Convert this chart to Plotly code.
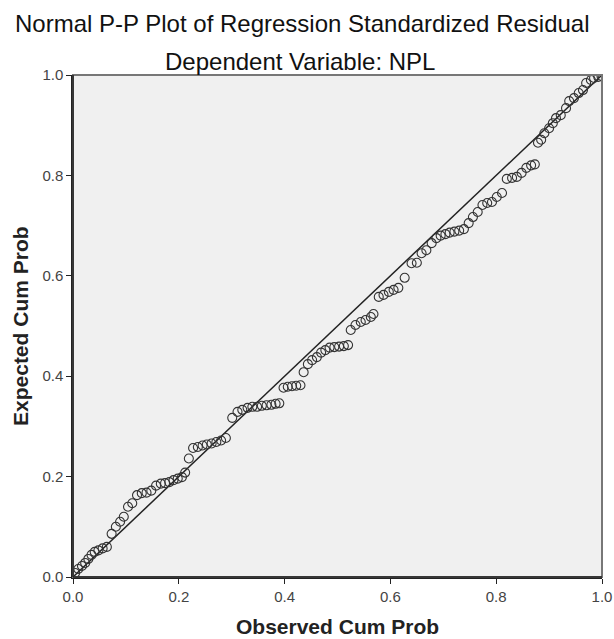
import plotly.graph_objects as go

# Observed cumulative probability (x) and expected cumulative probability (y)
observed = [0.004, 0.010, 0.017, 0.023, 0.029, 0.035, 0.041, 0.048, 0.056, 0.064,
            0.073, 0.081, 0.089, 0.096, 0.104, 0.112, 0.121, 0.130, 0.139, 0.148,
            0.157, 0.166, 0.174, 0.182, 0.190, 0.198, 0.206, 0.212, 0.219, 0.227,
            0.236, 0.245, 0.253, 0.262, 0.271, 0.280, 0.289, 0.301, 0.311, 0.320,
            0.330, 0.339, 0.348, 0.357, 0.366, 0.375, 0.383, 0.390, 0.398, 0.406,
            0.414, 0.422, 0.430, 0.436, 0.444, 0.452, 0.461, 0.469, 0.477, 0.485,
            0.494, 0.503, 0.512, 0.520, 0.525, 0.534, 0.544, 0.553, 0.563, 0.568,
            0.578, 0.587, 0.597, 0.606, 0.615, 0.627, 0.640, 0.650, 0.659, 0.668,
            0.678, 0.687, 0.695, 0.704, 0.712, 0.721, 0.730, 0.739, 0.748, 0.756,
            0.765, 0.774, 0.783, 0.792, 0.801, 0.811, 0.820, 0.830, 0.839, 0.848,
            0.857, 0.866, 0.873, 0.879, 0.885, 0.891, 0.900, 0.907, 0.913, 0.922,
            0.932, 0.938, 0.947, 0.956, 0.964, 0.970, 0.979, 0.985, 0.993, 0.999]
expected = [0.008, 0.016, 0.022, 0.028, 0.036, 0.044, 0.050, 0.053, 0.057, 0.060,
            0.086, 0.100, 0.110, 0.120, 0.140, 0.147, 0.163, 0.167, 0.168, 0.172,
            0.182, 0.186, 0.187, 0.189, 0.193, 0.196, 0.199, 0.208, 0.236, 0.257,
            0.259, 0.262, 0.264, 0.266, 0.269, 0.272, 0.277, 0.317, 0.329, 0.333,
            0.337, 0.339, 0.339, 0.341, 0.342, 0.343, 0.345, 0.346, 0.377, 0.379,
            0.380, 0.381, 0.382, 0.408, 0.424, 0.432, 0.438, 0.447, 0.452, 0.457,
            0.458, 0.459, 0.460, 0.462, 0.492, 0.502, 0.508, 0.512, 0.518, 0.524,
            0.558, 0.562, 0.568, 0.572, 0.576, 0.596, 0.625, 0.626, 0.645, 0.651,
            0.665, 0.675, 0.680, 0.683, 0.686, 0.688, 0.690, 0.693, 0.705, 0.717,
            0.727, 0.741, 0.745, 0.747, 0.757, 0.765, 0.793, 0.795, 0.797, 0.805,
            0.815, 0.820, 0.822, 0.865, 0.871, 0.884, 0.894, 0.904, 0.914, 0.920,
            0.934, 0.948, 0.954, 0.964, 0.970, 0.984, 0.990, 0.994, 0.996, 0.998]
ref_line = [0.0, 1.0]
tick_vals = [0.0, 0.2, 0.4, 0.6, 0.8, 1.0]
tick_text = ["0.0", "0.2", "0.4", "0.6", "0.8", "1.0"]

title_text = "Normal P-P Plot of Regression Standardized Residual"
subtitle_text = "Dependent Variable: NPL"
x_title = "Observed Cum Prob"
y_title = "Expected Cum Prob"

FONT = "Liberation Sans, Arial, sans-serif"

fig = go.Figure()
fig.add_trace(go.Scatter(x=ref_line, y=ref_line, mode="lines",
                         line=dict(color="#222222", width=1.5),
                         hoverinfo="skip", showlegend=False))
fig.add_trace(go.Scatter(x=observed, y=expected, mode="markers",
                         marker=dict(symbol="circle-open", size=9,
                                     color="#333333", line=dict(width=1.1)),
                         showlegend=False))

axis_common = dict(range=[0, 1], tickvals=tick_vals, ticktext=tick_text,
                   showgrid=False, zeroline=False, showline=True,
                   linecolor="#222222", linewidth=1.5, ticks="outside",
                   ticklen=5, tickcolor="#222222", tickwidth=1,
                   tickfont=dict(family=FONT, size=15, color="#444444"),
                   mirror=False, automargin=False)
fig.update_xaxes(**axis_common)
fig.update_yaxes(**axis_common)

fig.add_shape(type="rect", xref="paper", yref="paper", x0=0, y0=0, x1=1, y1=1,
              line=dict(color="#777777", width=2), layer="above")
fig.add_shape(type="line", xref="paper", yref="paper", x0=0, y0=0, x1=1, y1=0,
              line=dict(color="#222222", width=1.5), layer="above")
fig.add_shape(type="line", xref="paper", yref="paper", x0=0, y0=0, x1=0, y1=1,
              line=dict(color="#222222", width=1.5), layer="above")

annotations = [
    dict(text=title_text, x=0.433, y=1.1016, font=dict(size=24, color="#111111")),
    dict(text=subtitle_text, x=0.429, y=1.0259, font=dict(size=24, color="#111111")),
    dict(text="<b>" + x_title + "</b>", x=0.5, y=-0.0996, font=dict(size=21, color="#222222")),
    dict(text="<b>" + y_title + "</b>", x=-0.1002, y=0.5, textangle=-90,
         font=dict(size=21, color="#222222")),
]
for a in annotations:
    a.update(xref="paper", yref="paper", showarrow=False,
             xanchor="center", yanchor="middle")
    a["font"]["family"] = FONT
fig.update_layout(annotations=annotations)

fig.update_layout(width=614, height=639,
                  margin=dict(l=73, r=12, t=75, b=62, autoexpand=False),
                  paper_bgcolor="white", plot_bgcolor="#f0f0f0",
                  font=dict(family=FONT))

fig.write_html("out.html", config={"displayModeBar": False},
               post_script="document.body.style.margin='0';document.body.style.overflow='hidden';")
